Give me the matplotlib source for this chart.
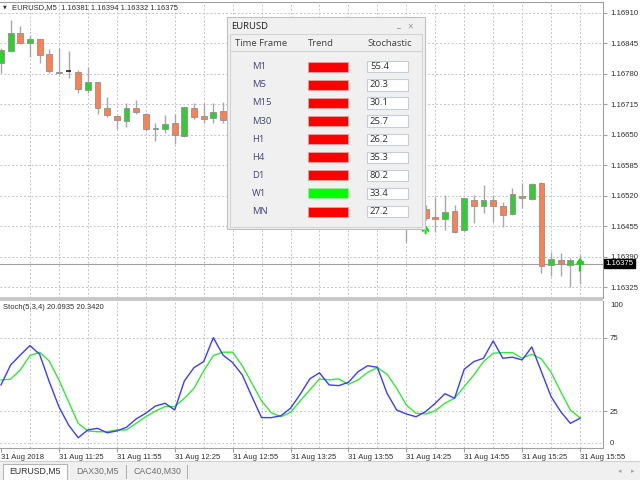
import numpy as np
import matplotlib
matplotlib.use('Agg')
import matplotlib.pyplot as plt
from matplotlib.patches import Rectangle

plt.rcParams['font.family'] = ['Liberation Sans', 'DejaVu Sans']

# EURUSD M5 candles, index 0 = 31 Aug 10:55
opens = [1.16802, 1.16829, 1.16866, 1.16846, 1.16854, 1.16822, 1.16784, 1.16786, 1.16783, 1.16745,
         1.16763, 1.16706, 1.16690, 1.16680, 1.16708, 1.16694, 1.16662, 1.16662, 1.16674, 1.16648,
         1.16706, 1.16691, 1.16685, 1.16701, 1.16681, 1.16655, 1.16630, 1.16600, 1.16590, 1.16595,
         1.16600, 1.16615, 1.16625, 1.16632, 1.16618, 1.16612, 1.16620, 1.16628, 1.16622, 1.16590,
         1.16560, 1.16540, 1.16520, 1.16500, 1.16491, 1.16474, 1.16470, 1.16487, 1.16447, 1.16510,
         1.16498, 1.16510, 1.16498, 1.16481, 1.16520, 1.16513, 1.16547, 1.16373, 1.16383, 1.16373,
         1.16381]
highs = [1.16835, 1.16894, 1.16882, 1.16862, 1.16855, 1.16833, 1.16835, 1.16828, 1.16789, 1.16794,
         1.16763, 1.16730, 1.16692, 1.16717, 1.16724, 1.16696, 1.16676, 1.16692, 1.16694, 1.16710,
         1.16718, 1.16718, 1.16718, 1.16720, 1.16690, 1.16662, 1.16640, 1.16612, 1.16605, 1.16610,
         1.16620, 1.16630, 1.16640, 1.16638, 1.16628, 1.16625, 1.16635, 1.16640, 1.16630, 1.16598,
         1.16570, 1.16548, 1.16530, 1.16512, 1.16500, 1.16518, 1.16522, 1.16500, 1.16515, 1.16522,
         1.16543, 1.16522, 1.16507, 1.16536, 1.16547, 1.16547, 1.16550, 1.16401, 1.16397, 1.16387,
         1.16394]
lows = [1.16782, 1.16827, 1.16843, 1.16816, 1.16802, 1.16781, 1.16781, 1.16772, 1.16738, 1.16740,
        1.16694, 1.16688, 1.16662, 1.16667, 1.16694, 1.16657, 1.16637, 1.16654, 1.16630, 1.16646,
        1.16684, 1.16676, 1.16675, 1.16674, 1.16650, 1.16625, 1.16595, 1.16580, 1.16575, 1.16585,
        1.16590, 1.16605, 1.16615, 1.16612, 1.16605, 1.16600, 1.16610, 1.16618, 1.16585, 1.16555,
        1.16530, 1.16515, 1.16422, 1.16478, 1.16468, 1.16443, 1.16446, 1.16440, 1.16443, 1.16461,
        1.16483, 1.16465, 1.16453, 1.16479, 1.16493, 1.16511, 1.16355, 1.16348, 1.16348, 1.16325,
        1.16332]
closes = [1.16831, 1.16867, 1.16845, 1.16855, 1.16820, 1.16786, 1.16782, 1.16786, 1.16747, 1.16763,
          1.16708, 1.16692, 1.16681, 1.16706, 1.16698, 1.16662, 1.16664, 1.16673, 1.16649, 1.16709,
          1.16688, 1.16683, 1.16699, 1.16681, 1.16655, 1.16630, 1.16600, 1.16590, 1.16595, 1.16600,
          1.16615, 1.16625, 1.16632, 1.16618, 1.16612, 1.16620, 1.16628, 1.16622, 1.16590, 1.16560,
          1.16540, 1.16520, 1.16500, 1.16495, 1.16472, 1.16471, 1.16485, 1.16442, 1.16515, 1.16498,
          1.16510, 1.16498, 1.16479, 1.16523, 1.16515, 1.16545, 1.16370, 1.16385, 1.16375, 1.16382,
          1.16375]

# signal arrows (bar index, tail price, tip price)
arrow_bars = [44, 60]
arrow_tail = [1.16440, 1.16360]
arrow_tip = [1.16458, 1.16388]

# Stoch(5,3,4)
stoch_k = [42.8, 56.4, 63.2, 69.6, 63.7, 45.0, 27.9, 15.5, 6.8, 12.1,
           13.2, 10.2, 11.4, 13.9, 19.6, 23.5, 28.4, 30.3, 25.7, 45.5,
           54.6, 58.7, 75.0, 63.2, 58.0, 49.6, 34.8, 20.5, 20.5, 21.8,
           26.9, 36.4, 46.9, 51.1, 42.8, 42.3, 44.6, 51.8, 55.9, 54.8,
           37.1, 25.7, 23.0, 21.1, 24.6, 30.3, 36.8, 33.7, 53.5, 58.7,
           61.0, 72.8, 61.0, 61.7, 59.8, 68.7, 51.8, 34.8, 24.6, 16.6, 20.0935]
stoch_d = [46.2, 46.7, 53.0, 62.8, 65.1, 59.1, 46.2, 31.4, 16.6, 11.4,
           10.9, 10.9, 12.1, 12.1, 16.6, 21.1, 25.0, 28.0, 28.0, 33.7,
           40.5, 52.3, 62.8, 65.1, 65.1, 55.9, 43.9, 31.9, 23.9, 21.1,
           24.1, 31.9, 39.4, 46.9, 46.2, 46.9, 43.2, 46.2, 51.4, 54.6,
           50.1, 40.5, 29.1, 23.5, 23.0, 25.2, 30.3, 33.7, 41.6, 49.6,
           58.7, 64.4, 64.8, 64.8, 61.0, 63.7, 60.5, 51.4, 38.2, 25.7, 20.342]

price_ticks = [1.16325, 1.16390, 1.16455, 1.16520, 1.16585, 1.16650, 1.16715, 1.16780, 1.16845, 1.16910]
time_ticks = [0, 6, 12, 18, 24, 30, 36, 42, 48, 54, 60]
time_labels = ['31 Aug 2018', '31 Aug 11:25', '31 Aug 11:55', '31 Aug 12:25', '31 Aug 12:55',
               '31 Aug 13:25', '31 Aug 13:55', '31 Aug 14:25', '31 Aug 14:55', '31 Aug 15:25',
               '31 Aug 15:55']

# dashboard panel
timeframes = ['M1', 'M5', 'M15', 'M30', 'H1', 'H4', 'D1', 'W1', 'MN']
tf_trend = ['down', 'down', 'down', 'down', 'down', 'down', 'down', 'up', 'down']
tf_stoch = [55.4, 20.3, 30.1, 25.7, 26.2, 35.3, 80.2, 33.4, 27.2]

BULL = '#32cd32'
BEAR = '#ff7f50'
WICK = '#a8a8a8'
GRID = '#c4c4cc'
FRAME = '#a0a0a0'
TXT = '#303030'

W, H = 640, 480


def px_box(left, top, w, h):
    return [left / W, 1 - (top + h) / H, w / W, h / H]


fig = plt.figure(figsize=(6.4, 4.8), dpi=100)
fig.patch.set_facecolor('white')

xlim = (-0.104, 62.38)

# -- main price window --
ax = fig.add_axes(px_box(0, 2, 603, 296))
ax.set_xlim(*xlim)
ax.set_ylim(1.16302, 1.16933)
for p in price_ticks:
    ax.axhline(p, color=GRID, lw=0.7, ls=(0, (2, 2)), zorder=0)
for i in range(3, 61, 3):
    ax.axvline(i, color=GRID, lw=0.7, ls=(0, (2, 2)), zorder=0)

o, hi, lo, c = map(np.array, (opens, highs, lows, closes))
idx = np.arange(len(o))
up, dn, flat = c > o, c < o, c == o
ax.vlines(idx, lo, hi, color=WICK, lw=1, zorder=2)
ax.bar(idx[up], (c - o)[up], bottom=o[up], width=0.6, color=BULL, edgecolor='#909090', lw=0.6, zorder=3)
ax.bar(idx[dn], (o - c)[dn], bottom=c[dn], width=0.6, color=BEAR, edgecolor='#909090', lw=0.6, zorder=3)
ax.hlines(o[flat], idx[flat] - 0.3, idx[flat] + 0.3, color='#202020', lw=1.2, zorder=3)

for b, t0, t1 in zip(arrow_bars, arrow_tail, arrow_tip):
    ax.annotate('', xy=(b, t1), xytext=(b, t0),
                arrowprops=dict(arrowstyle='->,head_width=0.2,head_length=0.3', color='#00e000', lw=1.5,
                                shrinkA=0, shrinkB=0),
                zorder=5)

ax.axhline(closes[-1], color=FRAME, lw=0.8, zorder=1)

ax.yaxis.tick_right()
ax.set_yticks(price_ticks)
ax.set_yticklabels([f'{p:.5f}' for p in price_ticks])
ax.tick_params(axis='y', length=3, pad=2, labelsize=5.6, labelcolor=TXT, color=FRAME)
ax.set_xticks([])
ax.text(1.004, closes[-1], f'{closes[-1]:.5f}', transform=ax.get_yaxis_transform(),
        ha='left', va='center', fontsize=5.6, color='white', clip_on=False, zorder=6,
        bbox=dict(boxstyle='square,pad=0.15', fc='black', ec='black'))
for s in ('left', 'bottom'):
    ax.spines[s].set_visible(False)
for s in ('top', 'right'):
    ax.spines[s].set_color(FRAME)
    ax.spines[s].set_linewidth(0.8)

# -- stochastic window --
ax2 = fig.add_axes(px_box(0, 301, 603, 146.7))
ax2.set_xlim(*xlim)
ax2.set_ylim(0, 100)
for v in (3.5, 25, 75):
    ax2.axhline(v, color=GRID, lw=0.7, ls=(0, (2, 2)), zorder=0)
for i in range(3, 61, 3):
    ax2.axvline(i, color=GRID, lw=0.7, ls=(0, (2, 2)), zorder=0)
ax2.plot(idx, stoch_d, color='#33e833', lw=1, zorder=2)
ax2.plot(idx, stoch_k, color='#3c3cff', lw=1, zorder=3)

ax2.yaxis.tick_right()
ax2.set_yticks([25, 75])
ax2.set_yticklabels(['25', '75'])
ax2.tick_params(axis='y', length=3, pad=2, labelsize=5.6, labelcolor=TXT, color=FRAME)
ax2.text(1.012, 97, '100', transform=ax2.get_yaxis_transform(), ha='left', va='center',
         fontsize=5.6, color=TXT)
ax2.text(1.012, 3, '0', transform=ax2.get_yaxis_transform(), ha='left', va='center',
         fontsize=5.6, color=TXT)
ax2.set_xticks(time_ticks)
ax2.set_xticklabels(time_labels)
for lbl in ax2.get_xticklabels():
    lbl.set_ha('left')
ax2.tick_params(axis='x', length=3, pad=1.5, labelsize=5.5, labelcolor=TXT, color=FRAME)
ax2.spines['top'].set_visible(False)
ax2.spines['left'].set_visible(False)
for s in ('bottom', 'right'):
    ax2.spines[s].set_color(FRAME)
    ax2.spines[s].set_linewidth(0.8)

# -- overlay in pixel coordinates --
ov = fig.add_axes([0, 0, 1, 1])
ov.set_xlim(0, W)
ov.set_ylim(H, 0)
ov.axis('off')
ov.set_zorder(10)

ov.add_patch(Rectangle((0, 297.3), 603, 3.2, fc='#c8c8c8', ec='none'))
ov.text(3, 7.3, '\u25bc', fontsize=3.5, family='DejaVu Sans', color=TXT, va='center')
ov.text(11.5, 7.3, 'EURUSD,M5  1.16381 1.16394 1.16332 1.16375', fontsize=5.5, color=TXT, va='center')
ov.text(3, 307.3, 'Stoch(5,3,4) 20.0935 20.3420', fontsize=5.5, color=TXT, va='center')

# tab bar
ov.add_patch(Rectangle((0, 461), W, 19, fc='#f0f0f0', ec='none'))
ov.plot([0, W], [461, 461], color='#d0d0d0', lw=0.8)
ov.add_patch(Rectangle((3, 463.5), 64, 16, fc='white', ec='#b4b4b4', lw=0.8))
ov.text(35, 471.5, 'EURUSD,M5', fontsize=6.3, color=TXT, ha='center', va='center')
ov.text(76, 471.5, 'DAX30,M5', fontsize=6.3, color='#707070', va='center')
ov.text(133, 471.5, 'CAC40,M30', fontsize=6.3, color='#707070', va='center')
for sx in (126, 187):
    ov.plot([sx, sx], [465, 478], color='#b4b4b4', lw=0.8)
ov.text(618, 471.5, '\u25c2', fontsize=5, family='DejaVu Sans', color='#a8a8a8', va='center')
ov.text(631, 471.5, '\u25b8', fontsize=5, family='DejaVu Sans', color='#a8a8a8', va='center')

# dashboard window
PF = 'Open Sans'
ov.add_patch(Rectangle((227, 17), 198, 212, fc='#f0f0f0', ec='#c0c0c0', lw=0.8))
ov.text(231, 26.5, 'EURUSD', fontsize=6.8, family=PF, color='#202020', va='center')
ov.text(396.5, 25, '_', fontsize=6.5, family=PF, color='#909090', va='center')
ov.text(407.5, 26.5, '\u00d7', fontsize=7, family=PF, color='#909090', va='center')
ov.add_patch(Rectangle((229.5, 34.3), 192, 16.7, fc='#f0f0f0', ec='#d4d4d4', lw=0.8))
ov.add_patch(Rectangle((229.5, 51), 192, 175.7, fc='#f0f0f0', ec='#d4d4d4', lw=0.8))
ov.text(235, 43.3, 'Time Frame', fontsize=6.8, family=PF, color='#404040', va='center')
ov.text(307.7, 43.3, 'Trend', fontsize=6.8, family=PF, color='#404040', va='center')
ov.text(367.3, 43.3, 'Stochastic', fontsize=6.8, family=PF, color='#404040', va='center')

for k, (tf, tr, sv) in enumerate(zip(timeframes, tf_trend, tf_stoch)):
    y = 66.7 + 18.1 * k
    ov.text(252.3, y, tf, fontsize=6.8, family=PF, color='#46467a', va='center')
    ov.add_patch(Rectangle((307.7, y - 5), 40.6, 10,
                           fc='#00ff00' if tr == 'up' else '#ff0000', ec='#e8a0a0' if tr == 'down' else '#a0e8a0',
                           lw=0.6))
    ov.add_patch(Rectangle((367.3, y - 5.6), 41, 11.3, fc='white', ec='#c8ccd4', lw=0.8))
    ov.text(370, y, f'{sv:.1f}', fontsize=6.8, family=PF, color=TXT, va='center')

fig.savefig('out.png', dpi=100)
